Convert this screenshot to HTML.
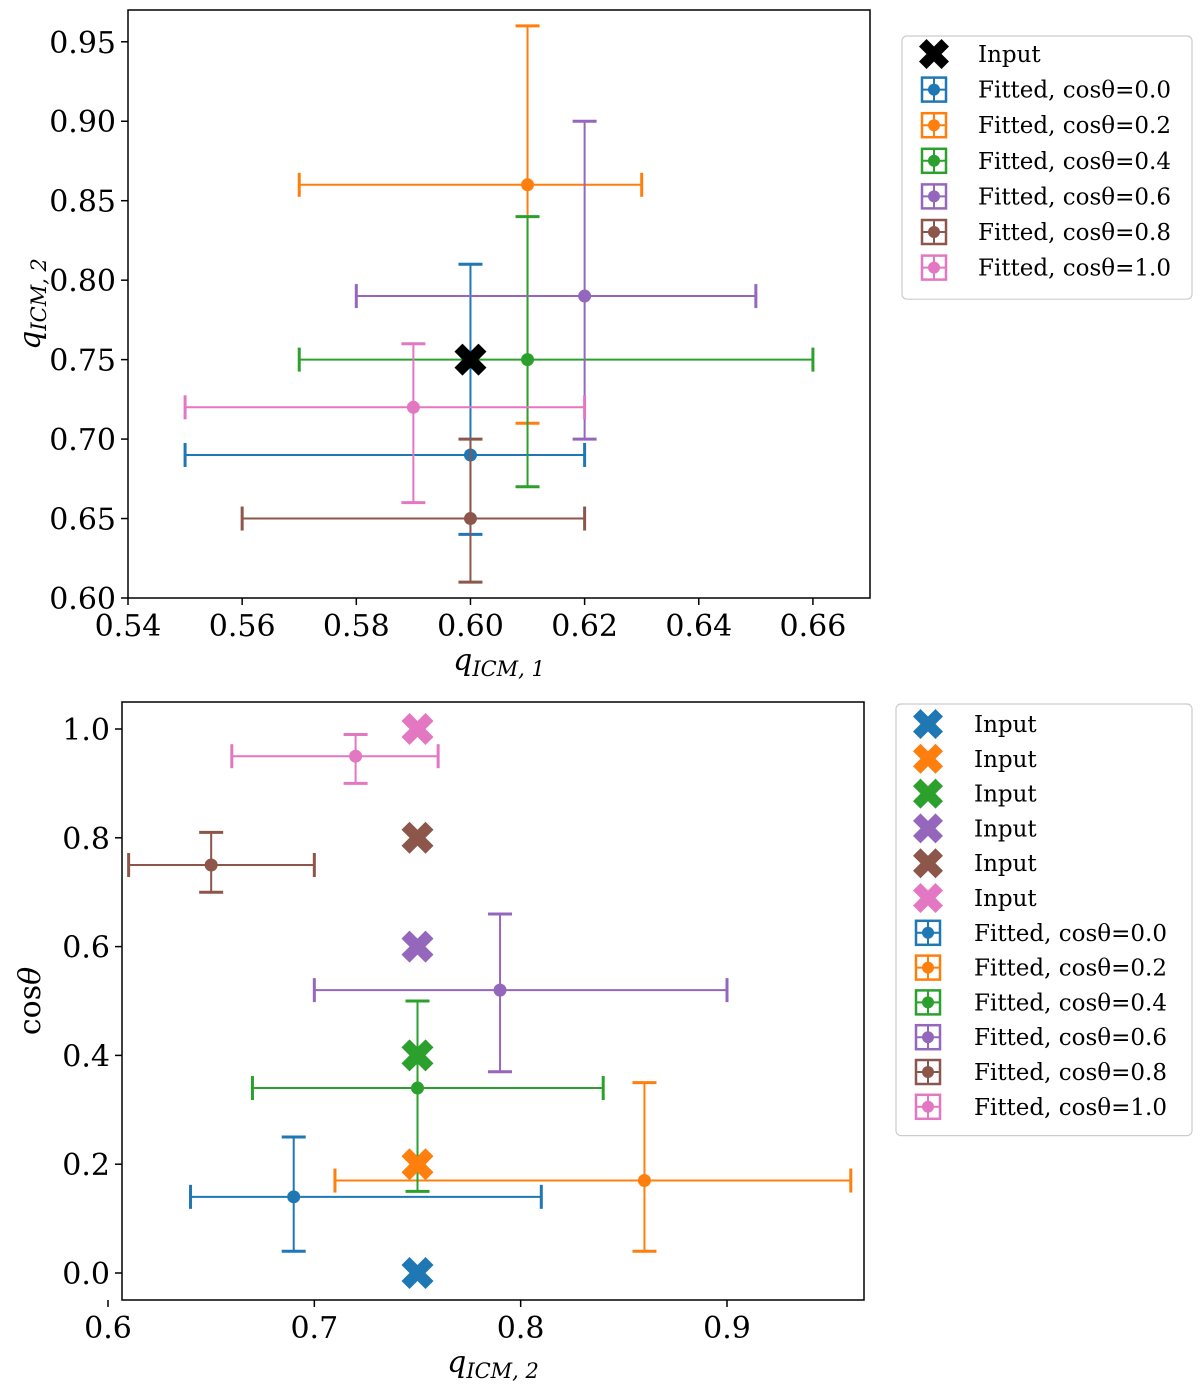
<!DOCTYPE html>
<html><head><meta charset="utf-8"><style>
body{margin:0;background:#fff;}
svg text{font-family:"DejaVu Serif","Liberation Serif",serif;fill:#000;}
</style></head><body>
<svg id="s" width="1200" height="1390" xmlns="http://www.w3.org/2000/svg"></svg>
<script>
const colors=['#1f77b4','#ff7f0e','#2ca02c','#9467bd','#8c564b','#e377c2'];
const legendLabels=['Fitted, cos\u03b8=0.0','Fitted, cos\u03b8=0.2','Fitted, cos\u03b8=0.4','Fitted, cos\u03b8=0.6','Fitted, cos\u03b8=0.8','Fitted, cos\u03b8=1.0'];
// top panel data: q1, q2 with asymmetric bounds
const topX=[0.60,0.61,0.61,0.62,0.60,0.59];
const topXlo=[0.55,0.57,0.57,0.58,0.56,0.55];
const topXhi=[0.62,0.63,0.66,0.65,0.62,0.62];
const topY=[0.69,0.86,0.75,0.79,0.65,0.72];
const topYlo=[0.64,0.71,0.67,0.70,0.61,0.66];
const topYhi=[0.81,0.96,0.84,0.90,0.70,0.76];
const topInput=[0.60,0.75];
const topXTicks=[0.54,0.56,0.58,0.60,0.62,0.64,0.66];
const topYTicks=[0.60,0.65,0.70,0.75,0.80,0.85,0.90,0.95];
// bottom panel data: q2, cos
const botX=[0.69,0.86,0.75,0.79,0.65,0.72];
const botXlo=[0.64,0.71,0.67,0.70,0.61,0.66];
const botXhi=[0.81,0.96,0.84,0.90,0.70,0.76];
const botY=[0.14,0.17,0.34,0.52,0.75,0.95];
const botYlo=[0.04,0.04,0.15,0.37,0.70,0.90];
const botYhi=[0.25,0.35,0.50,0.66,0.81,0.99];
const botInputX=[0.75,0.75,0.75,0.75,0.75,0.75];
const botInputY=[0.0,0.2,0.4,0.6,0.8,1.0];
const botXTicks=[0.6,0.7,0.8,0.9];
const botYTicks=[0.0,0.2,0.4,0.6,0.8,1.0];

const S=document.getElementById('s');const NS='http://www.w3.org/2000/svg';
function mk(t,a,p){const e=document.createElementNS(NS,t);for(const k in a)e.setAttribute(k,a[k]);(p||S).appendChild(e);return e;}
function lin(d0,d1,r0,r1){return v=>r0+(v-d0)/(d1-d0)*(r1-r0);}
function cross(g,x,y,c,s){const w=s*0.5;
 const p=`M${x-s},${y-s+w}L${x-s+w},${y-s}L${x},${y-w}L${x+s-w},${y-s}L${x+s},${y-s+w}L${x+w},${y}L${x+s},${y+s-w}L${x+s-w},${y+s}L${x},${y+w}L${x-s+w},${y+s}L${x-s},${y+s-w}L${x-w},${y}Z`;
 return mk('path',{d:p,fill:c},g);}
function errbar(g,X,Y,x,xl,xh,y,yl,yh,c){
 mk('line',{x1:X(xl),x2:X(xh),y1:Y(y),y2:Y(y),stroke:c,'stroke-width':2},g);
 mk('line',{x1:X(x),x2:X(x),y1:Y(yl),y2:Y(yh),stroke:c,'stroke-width':2},g);
 [xl,xh].forEach(v=>mk('line',{x1:X(v),x2:X(v),y1:Y(y)-12,y2:Y(y)+12,stroke:c,'stroke-width':3},g));
 [yl,yh].forEach(v=>mk('line',{x1:X(x)-12,x2:X(x)+12,y1:Y(v),y2:Y(v),stroke:c,'stroke-width':3},g));
 mk('circle',{cx:X(x),cy:Y(y),r:6.5,fill:c},g);}
function axes(name,L,T,R,B,X,Y,xt,yt,xfmt,yfmt,xlab,ylab){
 const g=mk('g',{});
 xt.forEach(v=>{mk('line',{x1:X(v),x2:X(v),y1:B,y2:B+7,stroke:'#000','stroke-width':1.5},g);
  const t=mk('text',{x:X(v),y:B+38,'font-size':30,'text-anchor':'middle'},g);t.textContent=xfmt(v);});
 yt.forEach(v=>{mk('line',{x1:L-7,x2:L,y1:Y(v),y2:Y(v),stroke:'#000','stroke-width':1.5},g);
  const t=mk('text',{x:L-12,y:Y(v)+11,'font-size':30,'text-anchor':'end'},g);t.textContent=yfmt(v);});
 const xl=mk('text',{x:(L+R)/2,y:B+72,'font-size':30,'text-anchor':'middle','font-style':'italic'},g);xl.innerHTML=xlab;
 const yl=mk('text',{x:0,y:0,'font-size':30,'text-anchor':'middle',transform:`translate(40,${(T+B)/2}) rotate(-90)`},g);yl.innerHTML=ylab;
 return g;}
function legend(name,x,y,w,rows,y0,dy,tx){
 const g=mk('g',{});
 mk('rect',{x:x,y:y,width:w,height:rows.length*dy+14,rx:5,fill:'#fff',stroke:'#ccc','stroke-width':1.2},g);
 rows.forEach((r,i)=>{const cy=y0+i*dy;const cx=x+32;
  if(r.t==='x')cross(g,cx,cy,r.c,15);
  else{mk('rect',{x:cx-12,y:cy-12,width:24,height:24,fill:'none',stroke:r.c,'stroke-width':2.5},g);
   mk('line',{x1:cx-12,x2:cx+12,y1:cy,y2:cy,stroke:r.c,'stroke-width':2},g);
   mk('line',{x1:cx,x2:cx,y1:cy-12,y2:cy+12,stroke:r.c,'stroke-width':2},g);
   mk('circle',{cx:cx,cy:cy,r:6,fill:r.c},g);}
  const t=mk('text',{x:x+tx,y:cy+8,'font-size':23},g);t.textContent=r.l;});}

// TOP
{const L=128,T=10,R=870,B=598;const X=lin(0.54,0.67,L,R),Y=lin(0.60,0.97,B,T);
 const g=mk('g',{});
 for(let i=0;i<topX.length;i++)errbar(g,X,Y,topX[i],topXlo[i],topXhi[i],topY[i],topYlo[i],topYhi[i],colors[i]);
 cross(g,X(topInput[0]),Y(topInput[1]),'#000',16);
 mk('rect',{x:L,y:T,width:R-L,height:B-T,fill:'none',stroke:'#000','stroke-width':1.5});
 axes('top-axes',L,T,R,B,X,Y,topXTicks,topYTicks,v=>v.toFixed(2),v=>v.toFixed(2),'q<tspan font-size="21" dy="6">ICM, 1</tspan>','<tspan font-style="italic">q</tspan><tspan font-size="21" dy="6" font-style="italic">ICM, 2</tspan>');
 legend('top-legend',902,36,290,[{t:'x',c:'#000',l:'Input'}].concat(colors.map((c,i)=>({t:'e',c:c,l:legendLabels[i]}))),54,35.6,76);}
// BOTTOM
{const L=122,T=702,R=864,B=1300;const X=lin(0.6,0.9,108,727),Y=lin(0,1,1273,729);
 const g=mk('g',{});
 for(let i=0;i<botX.length;i++)errbar(g,X,Y,botX[i],botXlo[i],botXhi[i],botY[i],botYlo[i],botYhi[i],colors[i]);
 for(let i=0;i<botInputX.length;i++)cross(g,X(botInputX[i]),Y(botInputY[i]),colors[i],16);
 mk('rect',{x:L,y:T,width:R-L,height:B-T,fill:'none',stroke:'#000','stroke-width':1.5});
 axes('bottom-axes',L,T,R,B,X,Y,botXTicks,botYTicks,v=>v.toFixed(1),v=>v.toFixed(1),'q<tspan font-size="21" dy="6">ICM, 2</tspan>','cos<tspan font-style="italic">θ</tspan>');
 legend('bottom-legend',896,704,296,colors.map(c=>({t:'x',c:c,l:'Input'})).concat(colors.map((c,i)=>({t:'e',c:c,l:legendLabels[i]}))),724,34.8,78);}
</script>
</body></html>
